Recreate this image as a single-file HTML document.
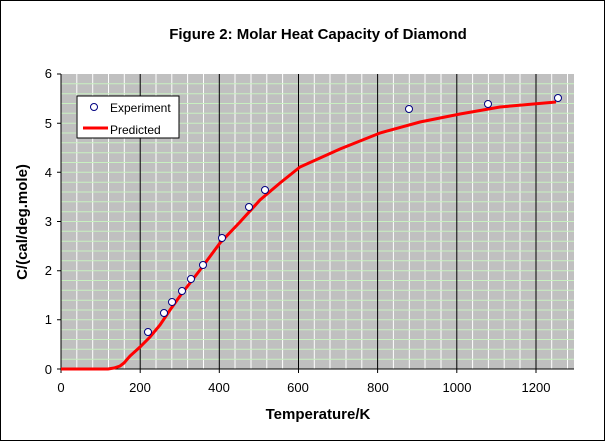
<!DOCTYPE html>
<html><head><style>body{margin:0;background:#fff}</style></head><body>
<svg width="605" height="441" xmlns="http://www.w3.org/2000/svg" font-family="Liberation Sans, Arial, sans-serif">
<rect x="0.5" y="0.5" width="604" height="440" fill="#fff" stroke="#000"/>
<text x="318" y="39" font-size="15" font-weight="bold" text-anchor="middle">Figure 2: Molar Heat Capacity of Diamond</text>
<rect x="61" y="74" width="513" height="295" fill="#c0c0c0"/>
<g stroke="#fff" stroke-width="1">
<path d="M76.8 74V369M92.7 74V369M108.5 74V369M124.3 74V369M156 74V369M171.8 74V369M187.6 74V369M203.5 74V369M235 74V369M251 74V369M266.8 74V369M282.6 74V369M314.3 74V369M330 74V369M346 74V369M361.8 74V369M393.4 74V369M409.3 74V369M425 74V369M441 74V369M472.6 74V369M488.4 74V369M504.2 74V369M520 74V369M551.7 74V369M567.5 74V369"/>
</g>
<g stroke="#c8f0c0" stroke-width="1" id="h"></g>
<g stroke="#000" stroke-width="1">
<path d="M140.2 74V369M219.3 74V369M298.5 74V369M377.6 74V369M456.8 74V369M536 74V369"/>
</g>
<path d="M61 74V369H574" stroke="#000" fill="none"/>
<g stroke="#000"><path d="M57 74H61M57 123.2H61M57 172.3H61M57 221.5H61M57 270.7H61M57 319.8H61M57 369H61M61 369V373M140.2 369V373M219.3 369V373M298.5 369V373M377.6 369V373M456.8 369V373M536 369V373"/></g>
<g font-size="13" text-anchor="end"><text x="52" y="78">6</text><text x="52" y="128">5</text><text x="52" y="177">4</text><text x="52" y="226">3</text><text x="52" y="275">2</text><text x="52" y="324">1</text><text x="52" y="374">0</text></g>
<g font-size="13" text-anchor="middle"><text x="61" y="392">0</text><text x="140" y="392">200</text><text x="219" y="392">400</text><text x="298" y="392">600</text><text x="378" y="392">800</text><text x="457" y="392">1000</text><text x="536" y="392">1200</text></g>
<text x="318" y="419" font-size="15" font-weight="bold" text-anchor="middle">Temperature/K</text>
<text transform="translate(27 222) rotate(-90)" font-size="15" font-weight="bold" text-anchor="middle">C/(cal/deg.mole)</text>
<polyline fill="none" stroke="#f00" stroke-width="3" points="61,369 108,369 114,368 120,366 124,363 130,356 140,347 150,337 160,325 170,310 180,296 190,283 200,270 220,243 240,222 260,200 280,183 300,167 340,149 380,133 420,122 460,114 500,107 556,102"/>
<g fill="#fff" stroke="#000080" stroke-width="1"><circle cx="148" cy="332" r="3.5"/><circle cx="164" cy="313" r="3.5"/><circle cx="172" cy="302" r="3.5"/><circle cx="182" cy="291" r="3.5"/><circle cx="191" cy="279" r="3.5"/><circle cx="203" cy="265" r="3.5"/><circle cx="222" cy="238" r="3.5"/><circle cx="249" cy="207" r="3.5"/><circle cx="265" cy="190" r="3.5"/><circle cx="409" cy="109" r="3.5"/><circle cx="488" cy="104" r="3.5"/><circle cx="558" cy="98" r="3.5"/></g>
<rect x="77" y="96" width="102" height="42" fill="#fff" stroke="#000"/>
<circle cx="94" cy="107" r="3.5" fill="#fff" stroke="#000080"/>
<text x="110" y="112" font-size="12">Experiment</text>
<path d="M83 128H108" stroke="#f00" stroke-width="3"/>
<text x="110" y="134" font-size="12">Predicted</text>
<script>
var g=document.getElementById('h'),d='';
for(var i=1;i<30;i++){var y=369-i*295/30;d+='M61 '+y.toFixed(1)+'H574';}
var p=document.createElementNS('http://www.w3.org/2000/svg','path');p.setAttribute('d',d);g.appendChild(p);
</script>
</svg>
</body></html>
